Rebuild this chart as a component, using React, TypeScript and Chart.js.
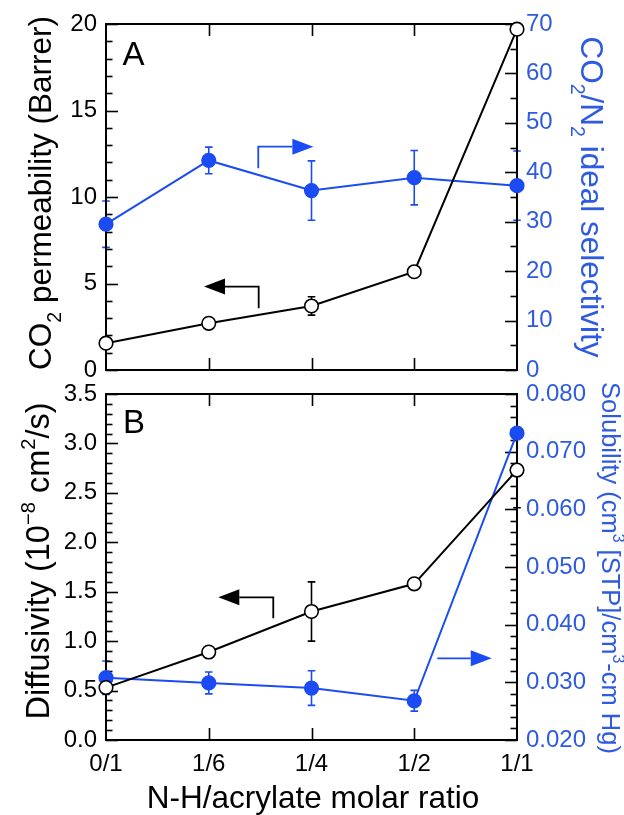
import React, { useEffect, useRef } from 'react';
import { Chart, registerables } from 'chart.js';
Chart.register(...registerables);

// ---------------- data ----------------
const ratioLabels = ['0/1', '1/6', '1/4', '1/2', '1/1'];

const permeability = [1.55, 2.7, 3.7, 5.68, 19.7];
const permeabilityErr = [0, 0, 0.53, 0, 0];
const selectivity = [29.5, 42.4, 36.3, 38.9, 37.3];
const selectivityErr = [4.7, 2.7, 6.0, 5.5, 7.0];

const diffusivity = [0.53, 0.89, 1.3, 1.58, 2.73];
const diffusivityErr = [0, 0, 0.3, 0, 0.38];
const solubility = [0.0308, 0.0299, 0.029, 0.0268, 0.0732];
const solubilityErr = [0.0029, 0.0019, 0.003, 0.0018, 0];

// ---------------- styles ----------------
const FONT = '"Liberation Sans", Arial, Helvetica, sans-serif';
const BLUE = '#1b4bf2';
const BLUE_TEXT = '#2f5be0';
const BLACK = '#000000';

type Seg = { t: string; s?: 'sub' | 'sup' };

function drawRich(ctx: CanvasRenderingContext2D, segs: Seg[], cx: number, cy: number, rot: number, size: number, color: string) {
  ctx.save();
  ctx.translate(cx, cy);
  ctx.rotate(rot);
  ctx.fillStyle = color;
  ctx.textAlign = 'left';
  ctx.textBaseline = 'alphabetic';
  const small = size * 0.62;
  const widths = segs.map((sg) => {
    ctx.font = `${sg.s ? small : size}px ${FONT}`;
    return ctx.measureText(sg.t).width;
  });
  const total = widths.reduce((a, b) => a + b, 0);
  let x = -total / 2;
  const base = size * 0.358;
  segs.forEach((sg, i) => {
    ctx.font = `${sg.s ? small : size}px ${FONT}`;
    const dy = sg.s === 'sub' ? size * 0.3 : sg.s === 'sup' ? -size * 0.42 : 0;
    ctx.fillText(sg.t, x, base + dy);
    x += widths[i];
  });
  ctx.restore();
}

type AxisTicks = { id: string; side: 'left' | 'right'; min: number; max: number; major: number; minor: number };
type ErrSpec = { datasetIndex: number; errors: number[]; color: string };
type ArrowSpec = { pts: [number, number][]; color: string };
type TitleSpec = { segs: Seg[]; cx: number; cy: number; rot: number; size: number; color: string };

type PanelCfg = {
  axisTicks: AxisTicks[];
  errs: ErrSpec[];
  arrows: ArrowSpec[];
  titles: TitleSpec[];
  letter: { text: string; dx: number; dy: number };
};

function makePlugin(cfg: PanelCfg) {
  return {
    id: 'panelDeco',
    beforeDatasetsDraw(chart: any) {
      const ctx: CanvasRenderingContext2D = chart.ctx;
      const { left, right, top, bottom } = chart.chartArea;
      ctx.save();
      // error bars (drawn first so that the frame covers those on the edges)
      cfg.errs.forEach((e) => {
        const meta = chart.getDatasetMeta(e.datasetIndex);
        const ds = chart.data.datasets[e.datasetIndex];
        const sc = chart.scales[meta.yAxisID];
        ctx.strokeStyle = e.color;
        ctx.lineWidth = 1.6;
        meta.data.forEach((pt: any, i: number) => {
          const err = e.errors[i];
          if (!err) return;
          const v = ds.data[i] as number;
          const y1 = sc.getPixelForValue(v + err);
          const y2 = sc.getPixelForValue(v - err);
          ctx.beginPath();
          ctx.moveTo(pt.x, y1);
          ctx.lineTo(pt.x, y2);
          ctx.moveTo(pt.x - 3.8, y1);
          ctx.lineTo(pt.x + 3.8, y1);
          ctx.moveTo(pt.x - 3.8, y2);
          ctx.lineTo(pt.x + 3.8, y2);
          ctx.stroke();
        });
      });
      // frame
      ctx.strokeStyle = BLACK;
      ctx.lineWidth = 2;
      ctx.strokeRect(left, top, right - left, bottom - top);
      ctx.lineWidth = 1.6;
      // y ticks
      cfg.axisTicks.forEach((a) => {
        const sc = chart.scales[a.id];
        const n = Math.round((a.max - a.min) / a.minor);
        for (let i = 0; i <= n; i++) {
          const v = a.min + i * a.minor;
          const r = (v - a.min) / a.major;
          const isMajor = Math.abs(r - Math.round(r)) < 1e-6;
          const len = isMajor ? 12 : 6.5;
          const y = Math.round(sc.getPixelForValue(v)) + 0.5;
          ctx.beginPath();
          if (a.side === 'left') {
            ctx.moveTo(left, y);
            ctx.lineTo(left + len, y);
          } else {
            ctx.moveTo(right, y);
            ctx.lineTo(right - len, y);
          }
          ctx.stroke();
        }
      });
      // x ticks top & bottom
      const xs = chart.scales.x;
      for (let i = 1; i < ratioLabels.length - 1; i++) {
        const x = Math.round(xs.getPixelForValue(i)) + 0.5;
        ctx.beginPath();
        ctx.moveTo(x, bottom);
        ctx.lineTo(x, bottom - 12);
        ctx.moveTo(x, top);
        ctx.lineTo(x, top + 12);
        ctx.stroke();
      }
      // arrows (coordinates in x index / left axis units)
      const ys = chart.scales.y;
      cfg.arrows.forEach((a) => {
        const p = a.pts.map(([xv, yv]) => [xs.getPixelForValue(xv), ys.getPixelForValue(yv)]);
        const [tx, ty] = p[p.length - 1];
        const [px, py] = p[p.length - 2];
        const ang = Math.atan2(ty - py, tx - px);
        const headLen = 21;
        const hw = 8;
        const bx = tx - headLen * Math.cos(ang);
        const by = ty - headLen * Math.sin(ang);
        ctx.strokeStyle = a.color;
        ctx.fillStyle = a.color;
        ctx.lineWidth = 1.8;
        ctx.beginPath();
        ctx.moveTo(p[0][0], p[0][1]);
        for (let i = 1; i < p.length - 1; i++) ctx.lineTo(p[i][0], p[i][1]);
        ctx.lineTo(bx, by);
        ctx.stroke();
        ctx.beginPath();
        ctx.moveTo(tx, ty);
        ctx.lineTo(bx - hw * Math.sin(ang), by + hw * Math.cos(ang));
        ctx.lineTo(bx + hw * Math.sin(ang), by - hw * Math.cos(ang));
        ctx.closePath();
        ctx.fill();
      });
      ctx.restore();
    },
    afterDraw(chart: any) {
      const ctx: CanvasRenderingContext2D = chart.ctx;
      const { left, top } = chart.chartArea;
      ctx.save();
      cfg.titles.forEach((t) => drawRich(ctx, t.segs, t.cx, t.cy, t.rot, t.size, t.color));
      ctx.font = `33px ${FONT}`;
      ctx.fillStyle = BLACK;
      ctx.textAlign = 'left';
      ctx.textBaseline = 'alphabetic';
      ctx.fillText(cfg.letter.text, left + cfg.letter.dx, top + cfg.letter.dy);
      ctx.restore();
    },
  };
}

function lineDs(data: number[], axis: string, color: string, fill: string) {
  return {
    data,
    yAxisID: axis,
    borderColor: color,
    borderWidth: 2,
    pointRadius: 6.8,
    pointHoverRadius: 6.8,
    pointBackgroundColor: fill,
    pointBorderColor: color,
    pointBorderWidth: 1.6,
    tension: 0,
    clip: false as any,
  };
}

function yScale(position: string, min: number, max: number, step: number, digits: number, color: string, width: number) {
  return {
    position,
    min,
    max,
    grid: { display: false, drawTicks: false },
    border: { display: false },
    ticks: {
      stepSize: step,
      color,
      padding: 9,
      font: { family: FONT, size: 24 },
      callback: (v: any) => Number(v).toFixed(digits),
    },
    afterFit: (s: any) => {
      s.width = width;
    },
  };
}

function xScale(showLabels: boolean, height: number) {
  return {
    type: 'category',
    labels: ratioLabels,
    offset: false,
    grid: { display: false, drawTicks: false },
    border: { display: false },
    ticks: {
      display: showLabels,
      color: BLACK,
      padding: 10,
      maxRotation: 0,
      autoSkip: false,
      font: { family: FONT, size: 24 },
    },
    afterFit: (s: any) => {
      s.height = height;
    },
  };
}

const TOP_CFG: PanelCfg = {
  axisTicks: [
    { id: 'y', side: 'left', min: 0, max: 20, major: 5, minor: 1 },
    { id: 'y1', side: 'right', min: 0, max: 70, major: 10, minor: 5 },
  ],
  errs: [
    { datasetIndex: 0, errors: permeabilityErr, color: BLACK },
    { datasetIndex: 1, errors: selectivityErr, color: BLUE },
  ],
  arrows: [
    { pts: [[1.486, 3.57], [1.486, 4.82], [0.954, 4.82]], color: BLACK },
    { pts: [[1.482, 11.66], [1.482, 12.91], [2.018, 12.91]], color: BLUE },
  ],
  titles: [
    {
      segs: [{ t: 'CO' }, { t: '2', s: 'sub' }, { t: ' permeability (Barrer)' }],
      cx: 40, cy: 193, rot: -Math.PI / 2, size: 31.5, color: BLACK,
    },
    {
      segs: [{ t: 'CO' }, { t: '2', s: 'sub' }, { t: '/N' }, { t: '2', s: 'sub' }, { t: ' ideal selectivity' }],
      cx: 592, cy: 197, rot: Math.PI / 2, size: 31.5, color: BLUE_TEXT,
    },
  ],
  letter: { text: 'A', dx: 16.5, dy: 41 },
};

const BOT_CFG: PanelCfg = {
  axisTicks: [
    { id: 'y', side: 'left', min: 0, max: 3.5, major: 0.5, minor: 0.1 },
    { id: 'y1', side: 'right', min: 0.02, max: 0.08, major: 0.01, minor: 0.002 },
  ],
  errs: [
    { datasetIndex: 0, errors: diffusivityErr, color: BLACK },
    { datasetIndex: 1, errors: solubilityErr, color: BLUE },
  ],
  arrows: [
    { pts: [[1.628, 1.231], [1.628, 1.443], [1.093, 1.443]], color: BLACK },
    { pts: [[3.224, 0.826], [3.754, 0.826]], color: BLUE },
  ],
  titles: [
    {
      segs: [{ t: 'Diffusivity (10' }, { t: '\u22128', s: 'sup' }, { t: ' cm' }, { t: '2', s: 'sup' }, { t: '/s)' }],
      cx: 37, cy: 191, rot: -Math.PI / 2, size: 32.5, color: BLACK,
    },
    {
      segs: [{ t: 'Solubility (cm' }, { t: '3', s: 'sup' }, { t: ' [STP]/cm' }, { t: '3', s: 'sup' }, { t: '-cm Hg)' }],
      cx: 611, cy: 198, rot: Math.PI / 2, size: 25.5, color: BLUE_TEXT,
    },
    {
      segs: [{ t: 'N-H/acrylate molar ratio' }],
      cx: 313, cy: 427, rot: 0, size: 31.5, color: BLACK,
    },
  ],
  letter: { text: 'B', dx: 17, dy: 39 },
};

function Panel(props: {
  top: number; height: number; padTop: number; padBottom: number; xHeight: number; showX: boolean;
  left: number[]; right: number[]; leftRange: [number, number, number, number]; rightRange: [number, number, number, number];
  cfg: PanelCfg;
}) {
  const ref = useRef<HTMLCanvasElement>(null);
  useEffect(() => {
    if (!ref.current) return;
    const [lmin, lmax, lstep, ld] = props.leftRange;
    const [rmin, rmax, rstep, rd] = props.rightRange;
    const chart = new Chart(ref.current, {
      type: 'line',
      data: {
        labels: ratioLabels,
        datasets: [
          lineDs(props.left, 'y', BLACK, '#ffffff'),
          lineDs(props.right, 'y1', BLUE, BLUE),
        ] as any,
      },
      options: {
        responsive: false,
        animation: false,
        layout: { padding: { top: props.padTop, bottom: props.padBottom, left: 0, right: 0 } },
        plugins: { legend: { display: false }, tooltip: { enabled: false } },
        events: [],
        scales: {
          x: xScale(props.showX, props.xHeight) as any,
          y: yScale('left', lmin, lmax, lstep, ld, BLACK, 106) as any,
          y1: yScale('right', rmin, rmax, rstep, rd, BLUE_TEXT, 107) as any,
        },
      },
      plugins: [makePlugin(props.cfg)],
    });
    return () => chart.destroy();
  }, []);
  return (
    <canvas
      ref={ref}
      width={624}
      height={props.height}
      style={{ position: 'absolute', left: 0, top: props.top, width: 624, height: props.height }}
    />
  );
}

export default function App() {
  return (
    <div style={{ position: 'absolute', left: 0, top: 0, width: 624, height: 815, background: '#fff', overflow: 'hidden' }}>
      <Panel
        top={0} height={400} padTop={24} padBottom={30} xHeight={0} showX={false}
        left={permeability} right={selectivity}
        leftRange={[0, 20, 5, 0]} rightRange={[0, 70, 10, 0]}
        cfg={TOP_CFG}
      />
      <Panel
        top={370} height={445} padTop={24} padBottom={0} xHeight={75} showX={true}
        left={diffusivity} right={solubility}
        leftRange={[0, 3.5, 0.5, 1]} rightRange={[0.02, 0.08, 0.01, 3]}
        cfg={BOT_CFG}
      />
    </div>
  );
}
